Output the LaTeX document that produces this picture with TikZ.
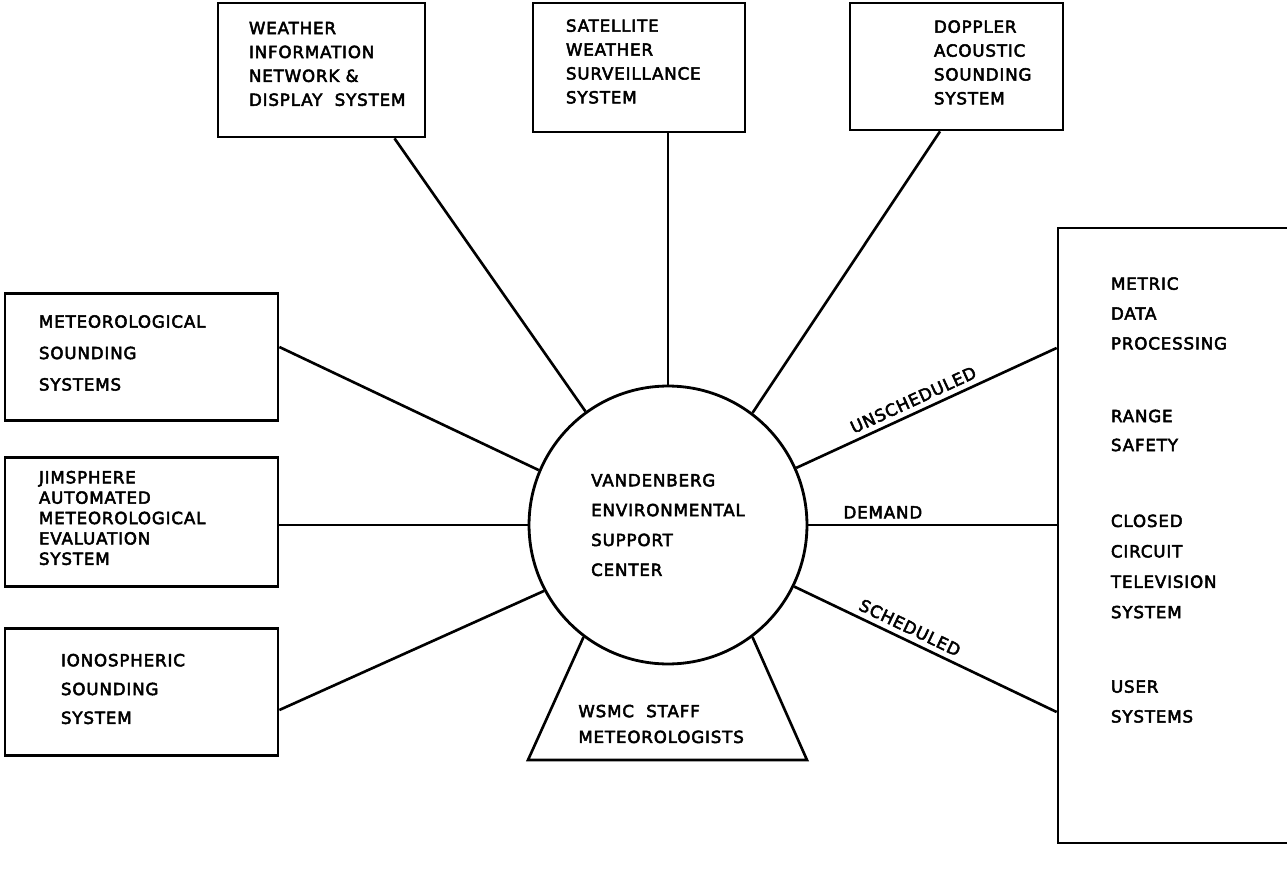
\documentclass[tikz,border=0pt]{standalone}
\usepackage{fontspec}
\setmainfont{DejaVu Sans}[LetterSpace=5, FakeBold=3]
\usetikzlibrary{calc}

\tikzset{
  box/.style={draw, line width=1.6pt, inner sep=0pt},
  lbl/.style={anchor=west, align=left, inner sep=0pt},
  lead/.style={font={\fontsize{9.5}{#1}\selectfont}},
  link/.style={line width=1.5pt},
  tag/.style={font={\fontsize{9.5}{11}\selectfont}, inner sep=3pt}
}

\begin{document}
\begin{tikzpicture}[x=0.02cm, y=-0.02cm]
    \useasboundingbox (0,0) rectangle (1287,871);

    % centre
    \node[box, circle, fill=white, minimum size=5.56cm, align=left, lead=17pt] (vesc) at (668,525)
        {VANDENBERG\\ENVIRONMENTAL\\SUPPORT\\CENTER};

    % boxes along the top
    \node[box, minimum width=4.14cm, minimum height=2.68cm] (win) at (321.5,70) {};
    \node[box, minimum width=4.24cm, minimum height=2.58cm] (sat) at (639,67.5) {};
    \node[box, minimum width=4.26cm, minimum height=2.54cm] (dop) at (956.5,66.5) {};
    \node[lbl, lead=13.6pt] (win-t) at ($(win.west)+(32,-6)$) {WEATHER\\INFORMATION\\NETWORK \&\\DISPLAY~~SYSTEM};
    \node[lbl, lead=13.6pt] (sat-t) at ($(sat.west)+(34,-6)$) {SATELLITE\\WEATHER\\SURVEILLANCE\\SYSTEM};
    \node[lbl, lead=13.6pt] (dop-t) at ($(dop.west)+(85,-4)$) {DOPPLER\\ACOUSTIC\\SOUNDING\\SYSTEM};

    % boxes on the left
    \node[box, minimum width=5.46cm, minimum height=2.54cm] (metsnd) at (141.5,357) {};
    \node[box, minimum width=5.46cm, minimum height=2.58cm] (jimsphere) at (141.5,522) {};
    \node[box, minimum width=5.46cm, minimum height=2.54cm] (iono) at (141.5,692) {};
    \node[lbl, lead=17.9pt] (metsnd-t) at ($(metsnd.west)+(35,-4)$) {METEOROLOGICAL\\SOUNDING\\SYSTEMS};
    \node[lbl, lead=11.6pt] (jimsphere-t) at ($(jimsphere.west)+(35,-4)$) {JIMSPHERE\\AUTOMATED\\METEOROLOGICAL\\EVALUATION\\SYSTEM};
    \node[lbl, lead=16.4pt] (iono-t) at ($(iono.west)+(57,-3)$) {IONOSPHERIC\\SOUNDING\\SYSTEM};

    % users on the right, running off the edge
    \node[box, minimum width=4.74cm, minimum height=12.3cm] (users) at (1176.5,535.5) {};
    \node[lbl, lead=17pt] (mdp-t) at ($(users.west)+(54,-222)$) {METRIC\\DATA\\PROCESSING};
    \node[lbl, lead=16.5pt] (rsf-t) at ($(users.west)+(54,-105)$) {RANGE\\SAFETY};
    \node[lbl, lead=17.3pt] (cctv-t) at ($(users.west)+(54,31)$) {CLOSED\\CIRCUIT\\TELEVISION\\SYSTEM};
    \node[lbl, lead=17pt] (usr-t) at ($(users.west)+(54,166)$) {USER\\SYSTEMS};

    % staff below the centre
    \coordinate (staff-sw) at (528,760);
    \coordinate (staff-se) at (807,760);
    \draw[link] (vesc.233) -- (staff-sw) -- (staff-se) -- (vesc.307);
    \node[lbl, lead=14.7pt] (staff-t) at (578,724) {WSMC~~STAFF\\METEOROLOGISTS};

    % spokes
    \draw[link] ($(win.south)+(73,0)$) -- (vesc.126);
    \draw[link] (vesc |- sat.south) -- (vesc.90);
    \draw[link] ($(dop.south)+(-16.5,0)$) -- (vesc.53);
    \draw[link] ($(metsnd.east)+(0,-10)$) -- (vesc.157);
    \draw[link] (jimsphere.east |- vesc) -- (vesc.180);
    \draw[link] ($(iono.east)+(0,18)$) -- (vesc.208);

    \draw[link] (vesc.24) -- node[tag, pos=0.47, above, sloped] {UNSCHEDULED} ($(users.west)+(0,-187.5)$);
    \draw[link] (vesc.0) -- node[tag, pos=0.3, above] {DEMAND} (vesc -| users.west);
    \draw[link] (vesc.-26) -- node[tag, pos=0.42, above, sloped] {SCHEDULED} ($(users.west)+(0,176.5)$);
\end{tikzpicture}
\end{document}
